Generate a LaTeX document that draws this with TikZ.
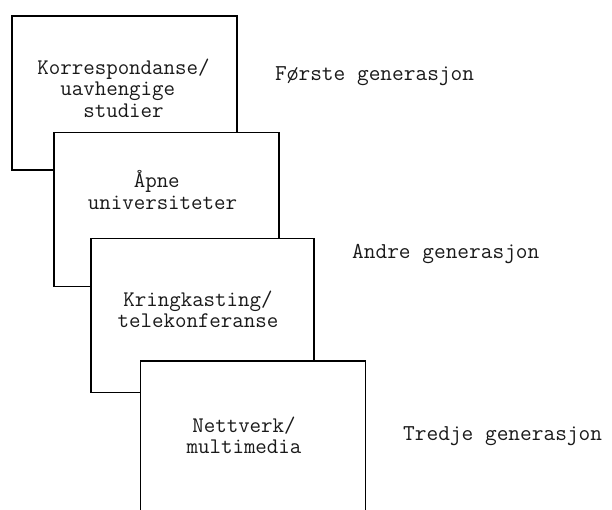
\documentclass[tikz,border=0pt]{standalone}
\usepackage{fontspec}
\definecolor{linecol}{HTML}{000000}
\definecolor{textcol}{HTML}{1A1A1A}

\tikzset{
  genbox/.style={draw=linecol, line width=1.6bp, fill=white, inner sep=0pt,
    minimum width=225bp, minimum height=154bp},
  boxtext/.style={textcol, font=\ttfamily\fontsize{22.4}{21.5}\selectfont,
    align=center, inner sep=0pt},
  genlabel/.style={textcol, font=\ttfamily\fontsize{22.8}{20}\selectfont,
    anchor=west, inner sep=0pt}
}

\begin{document}
\begin{tikzpicture}[x=1bp, y=-1bp]
\useasboundingbox (0,0) rectangle (612,510);
\clip (0,0) rectangle (612,510);
% the four generations, each box lying over the one before
\node[genbox] (korr) at (124.5,93) {};
\node[genbox] (open) at (166.5,209.5) {};
\node[genbox, minimum width=223bp] (broad) at (202.5,315.5) {};
\node[genbox] (net) at (253,438) {};
% box texts
\node[boxtext] (korrtxt) at (123.5,88) {Korrespondanse/\\uavhengige\phantom{x}\\studier};
\node[boxtext] (opentxt) at (162.5,190) {Åpne\phantom{x}\\universiteter};
\node[boxtext] (broadtxt) at (198,309.5) {Kringkasting/\\telekonferanse};
\node[boxtext] (nettxt) at (244,435.5) {Nettverk/\\multimedia};
% generation labels
\node[genlabel] (first) at (275,76) {Første generasjon};
\node[genlabel] (second) at (352,254) {Andre generasjon};
\node[genlabel] (third) at (403,436) {Tredje generasjon};
\end{tikzpicture}
\end{document}
